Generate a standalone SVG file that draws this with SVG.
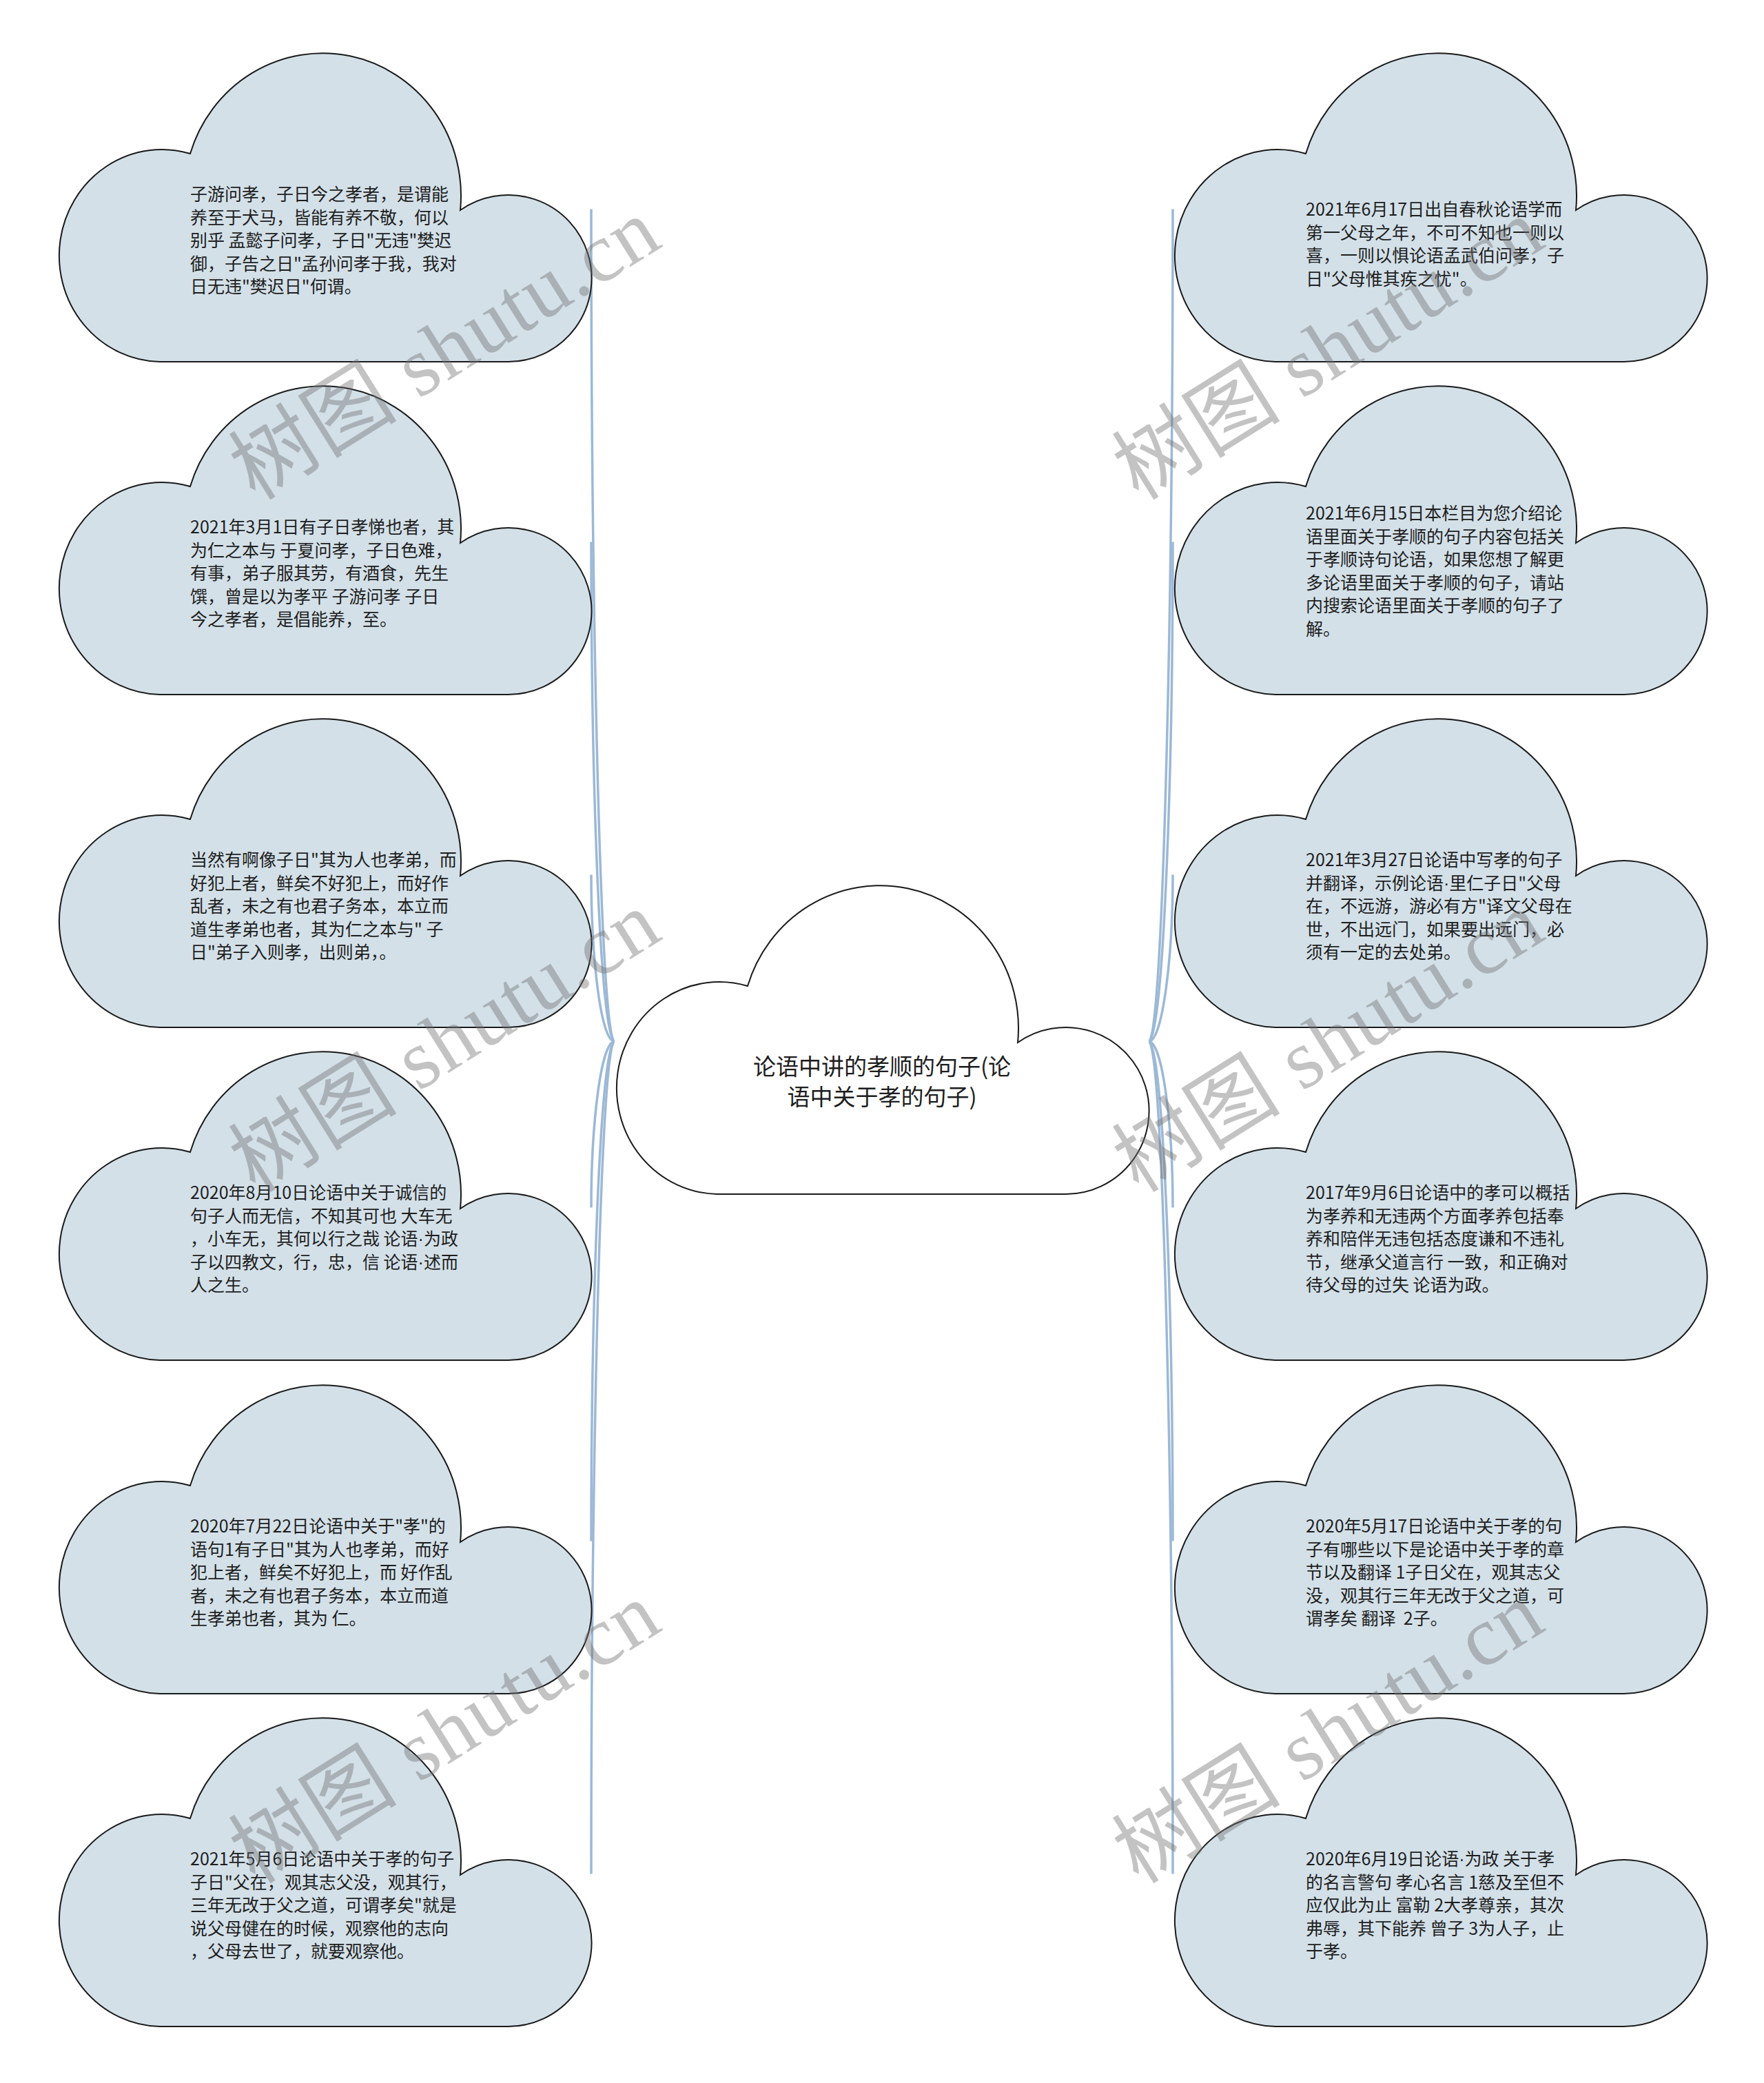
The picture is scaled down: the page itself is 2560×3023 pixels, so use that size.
<svg xmlns="http://www.w3.org/2000/svg" xmlns:xlink="http://www.w3.org/1999/xlink" width="2560" height="3023" viewBox="0 0 2560 3023">
<style>
.leaf{fill:#d3e0e8;stroke:#1a1a1a;stroke-width:2}
.root{fill:#ffffff;stroke:#1a1a1a;stroke-width:2}
.t{font-family:"Noto Sans CJK SC","Noto Sans",sans-serif;font-size:25px;fill:#1e1e1e;white-space:pre}
.ct{font-family:"Noto Sans CJK SC","Noto Sans",sans-serif;font-size:33px;fill:#1e1e1e;text-anchor:middle}
.dot{font-family:"Liberation Sans",sans-serif}
.edge{fill:none;stroke:#9cb8d5;stroke-width:3.5}
.wm{font-family:"Liberation Serif","Noto Sans CJK SC",serif;font-size:122px;fill:#707070;fill-opacity:0.42;text-anchor:middle}
</style>
<defs>
<path id="cloud" d="M149 441A149 154 0 1 1 193 139A201 207 0 0 1 585 221A121 121 0 1 1 654 441Z"/>
</defs>
<rect width="2560" height="3023" fill="#ffffff"/>
<g id="connectors">
<path class="edge" d="M892 1511.5C872 1511.5 858 907.5 858 303.5"/>
<path class="edge" d="M892 1511.5C872 1511.5 858 1149 858 786.5"/>
<path class="edge" d="M892 1511.5C872 1511.5 858 1390.5 858 1269.5"/>
<path class="edge" d="M892 1511.5C872 1511.5 858 1632 858 1752.5"/>
<path class="edge" d="M892 1511.5C872 1511.5 858 1874 858 2236.5"/>
<path class="edge" d="M892 1511.5C872 1511.5 858 2115.5 858 2719.5"/>
<path class="edge" d="M1667 1511.5C1687 1511.5 1702 907.5 1702 303.5"/>
<path class="edge" d="M1667 1511.5C1687 1511.5 1702 1149 1702 786.5"/>
<path class="edge" d="M1667 1511.5C1687 1511.5 1702 1390.5 1702 1269.5"/>
<path class="edge" d="M1667 1511.5C1687 1511.5 1702 1632 1702 1752.5"/>
<path class="edge" d="M1667 1511.5C1687 1511.5 1702 1874 1702 2236.5"/>
<path class="edge" d="M1667 1511.5C1687 1511.5 1702 2115.5 1702 2719.5"/>
</g>
<g id="node-root">
<use xlink:href="#cloud" href="#cloud" x="892" y="1292" class="root"/>
<text class="ct"><tspan x="1280" y="1560">论语中讲的孝顺的句子(论</tspan><tspan x="1280" y="1604">语中关于孝的句子)</tspan></text>
</g>
<g id="node-L1">
<use xlink:href="#cloud" href="#cloud" x="83" y="84" class="leaf"/>
<text class="t"><tspan x="276" y="291">子游问孝，子日今之孝者，是谓能</tspan><tspan x="276" dy="33.5">养至于犬马，皆能有养不敬，何以</tspan><tspan x="276" dy="33.5">别乎 孟懿子问孝，子日"无违"樊迟</tspan><tspan x="276" dy="33.5">御，子告之日"孟孙问孝于我，我对</tspan><tspan x="276" dy="33.5">日无违"樊迟日"何谓。</tspan></text>
</g>
<g id="node-L2">
<use xlink:href="#cloud" href="#cloud" x="83" y="567" class="leaf"/>
<text class="t"><tspan x="276" y="774">2021年3月1日有子日孝悌也者，其</tspan><tspan x="276" dy="33.5">为仁之本与 于夏问孝，子日色难，</tspan><tspan x="276" dy="33.5">有事，弟子服其劳，有酒食，先生</tspan><tspan x="276" dy="33.5">馔，曾是以为孝平 子游问孝 子日</tspan><tspan x="276" dy="33.5">今之孝者，是倡能养，至。</tspan></text>
</g>
<g id="node-L3">
<use xlink:href="#cloud" href="#cloud" x="83" y="1050" class="leaf"/>
<text class="t"><tspan x="276" y="1257">当然有啊像子日"其为人也孝弟，而</tspan><tspan x="276" dy="33.5">好犯上者，鲜矣不好犯上，而好作</tspan><tspan x="276" dy="33.5">乱者，未之有也君子务本，本立而</tspan><tspan x="276" dy="33.5">道生孝弟也者，其为仁之本与" 子</tspan><tspan x="276" dy="33.5">日"弟子入则孝，出则弟，。</tspan></text>
</g>
<g id="node-L4">
<use xlink:href="#cloud" href="#cloud" x="83" y="1533" class="leaf"/>
<text class="t"><tspan x="276" y="1740">2020年8月10日论语中关于诚信的</tspan><tspan x="276" dy="33.5">句子人而无信，不知其可也 大车无</tspan><tspan x="276" dy="33.5">，小车无，其何以行之哉 论语<tspan class="dot">·</tspan>为政</tspan><tspan x="276" dy="33.5">子以四教文，行，忠，信 论语<tspan class="dot">·</tspan>述而</tspan><tspan x="276" dy="33.5">人之生。</tspan></text>
</g>
<g id="node-L5">
<use xlink:href="#cloud" href="#cloud" x="83" y="2017" class="leaf"/>
<text class="t"><tspan x="276" y="2224">2020年7月22日论语中关于"孝"的</tspan><tspan x="276" dy="33.5">语句1有子日"其为人也孝弟，而好</tspan><tspan x="276" dy="33.5">犯上者，鲜矣不好犯上，而 好作乱</tspan><tspan x="276" dy="33.5">者，未之有也君子务本，本立而道</tspan><tspan x="276" dy="33.5">生孝弟也者，其为 仁。</tspan></text>
</g>
<g id="node-L6">
<use xlink:href="#cloud" href="#cloud" x="83" y="2500" class="leaf"/>
<text class="t"><tspan x="276" y="2707">2021年5月6日论语中关于孝的句子</tspan><tspan x="276" dy="33.5">子日"父在，观其志父没，观其行，</tspan><tspan x="276" dy="33.5">三年无改于父之道，可谓孝矣"就是</tspan><tspan x="276" dy="33.5">说父母健在的时候，观察他的志向</tspan><tspan x="276" dy="33.5">，父母去世了，就要观察他。</tspan></text>
</g>
<g id="node-R1">
<use xlink:href="#cloud" href="#cloud" x="1702" y="84" class="leaf"/>
<text class="t"><tspan x="1895" y="313">2021年6月17日出自春秋论语学而</tspan><tspan x="1895" dy="33.5">第一父母之年，不可不知也一则以</tspan><tspan x="1895" dy="33.5">喜，一则以惧论语孟武伯问孝，子</tspan><tspan x="1895" dy="33.5">日"父母惟其疾之忧"。</tspan></text>
</g>
<g id="node-R2">
<use xlink:href="#cloud" href="#cloud" x="1702" y="567" class="leaf"/>
<text class="t"><tspan x="1895" y="754">2021年6月15日本栏目为您介绍论</tspan><tspan x="1895" dy="33.5">语里面关于孝顺的句子内容包括关</tspan><tspan x="1895" dy="33.5">于孝顺诗句论语，如果您想了解更</tspan><tspan x="1895" dy="33.5">多论语里面关于孝顺的句子，请站</tspan><tspan x="1895" dy="33.5">内搜索论语里面关于孝顺的句子了</tspan><tspan x="1895" dy="33.5">解。</tspan></text>
</g>
<g id="node-R3">
<use xlink:href="#cloud" href="#cloud" x="1702" y="1050" class="leaf"/>
<text class="t"><tspan x="1895" y="1257">2021年3月27日论语中写孝的句子</tspan><tspan x="1895" dy="33.5">并翻译，示例论语<tspan class="dot">·</tspan>里仁子日"父母</tspan><tspan x="1895" dy="33.5">在，不远游，游必有方"译文父母在</tspan><tspan x="1895" dy="33.5">世，不出远门，如果要出远门，必</tspan><tspan x="1895" dy="33.5">须有一定的去处弟。</tspan></text>
</g>
<g id="node-R4">
<use xlink:href="#cloud" href="#cloud" x="1702" y="1533" class="leaf"/>
<text class="t"><tspan x="1895" y="1740">2017年9月6日论语中的孝可以概括</tspan><tspan x="1895" dy="33.5">为孝养和无违两个方面孝养包括奉</tspan><tspan x="1895" dy="33.5">养和陪伴无违包括态度谦和不违礼</tspan><tspan x="1895" dy="33.5">节，继承父道言行 一致，和正确对</tspan><tspan x="1895" dy="33.5">待父母的过失 论语为政。</tspan></text>
</g>
<g id="node-R5">
<use xlink:href="#cloud" href="#cloud" x="1702" y="2017" class="leaf"/>
<text class="t"><tspan x="1895" y="2224">2020年5月17日论语中关于孝的句</tspan><tspan x="1895" dy="33.5">子有哪些以下是论语中关于孝的章</tspan><tspan x="1895" dy="33.5">节以及翻译 1子日父在，观其志父</tspan><tspan x="1895" dy="33.5">没，观其行三年无改于父之道，可</tspan><tspan x="1895" dy="33.5">谓孝矣 翻译  2子。</tspan></text>
</g>
<g id="node-R6">
<use xlink:href="#cloud" href="#cloud" x="1702" y="2500" class="leaf"/>
<text class="t"><tspan x="1895" y="2707">2020年6月19日论语<tspan class="dot">·</tspan>为政 关于孝</tspan><tspan x="1895" dy="33.5">的名言警句 孝心名言 1慈及至但不</tspan><tspan x="1895" dy="33.5">应仅此为止 富勒 2大孝尊亲，其次</tspan><tspan x="1895" dy="33.5">弗辱，其下能养 曾子 3为人子，止</tspan><tspan x="1895" dy="33.5">于孝。</tspan></text>
</g>
<g id="watermarks">
<text class="wm" transform="translate(646 508) rotate(-32)" y="40" textLength="700" lengthAdjust="spacing">树图 shutu.cn</text>
<text class="wm" transform="translate(646 1513) rotate(-32)" y="40" textLength="700" lengthAdjust="spacing">树图 shutu.cn</text>
<text class="wm" transform="translate(646 2516) rotate(-32)" y="40" textLength="700" lengthAdjust="spacing">树图 shutu.cn</text>
<text class="wm" transform="translate(1928 508) rotate(-32)" y="40" textLength="700" lengthAdjust="spacing">树图 shutu.cn</text>
<text class="wm" transform="translate(1928 1513) rotate(-32)" y="40" textLength="700" lengthAdjust="spacing">树图 shutu.cn</text>
<text class="wm" transform="translate(1928 2516) rotate(-32)" y="40" textLength="700" lengthAdjust="spacing">树图 shutu.cn</text>
</g>
</svg>
